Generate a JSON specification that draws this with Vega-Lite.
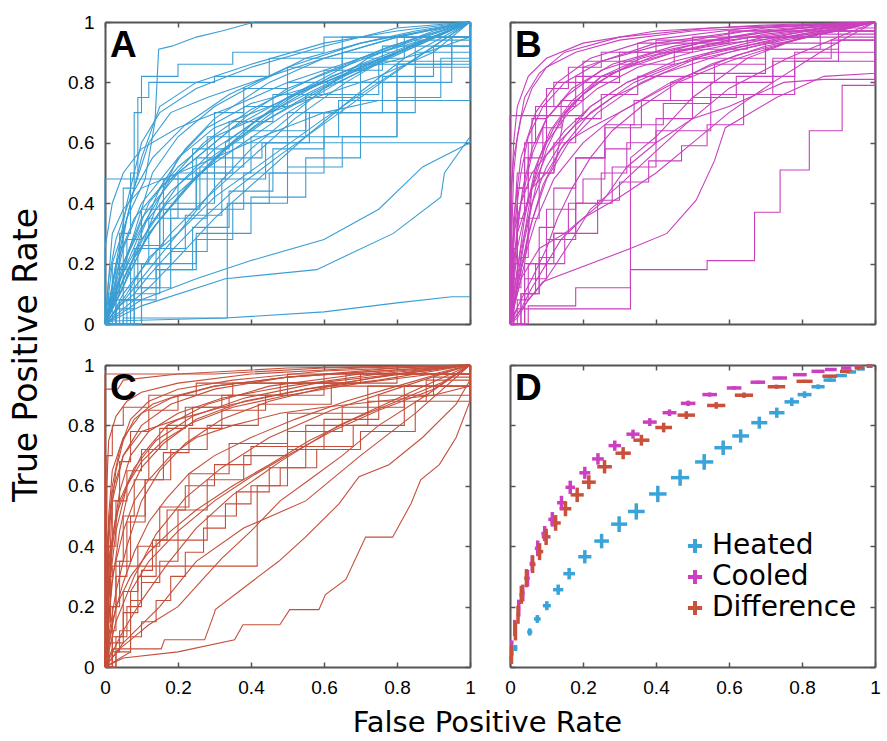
{
"$schema":"https://vega.github.io/schema/vega-lite/v6.json",
"background":"white",
"padding":{"left":10,"top":13,"right":5,"bottom":0},
"config":{"view":{"stroke":null},
"axis":{"domainColor":"#555","domainWidth":2,"tickColor":"#555","tickWidth":1.5,"tickSize":-5,"tickCount":5,"grid":false,"labelFont":"Liberation Sans","labelFontSize":19,"labelColor":"#000","labelPadding":16,"labelFlush":false,"labelOverlap":false,"title":null}},
"datasets":{
"A":[
{"c":1,"x":0,"y":0},{"c":1,"x":0.02,"y":0.2},{"c":1,"x":0.06,"y":0.35},{"c":1,"x":0.11,"y":0.48},{"c":1,"x":0.137,"y":0.67},{"c":1,"x":0.147,"y":0.91},{"c":1,"x":0.183,"y":0.92},{"c":1,"x":0.25,"y":0.95},{"c":1,"x":0.32,"y":0.97},{"c":1,"x":0.41,"y":1},{"c":1,"x":1,"y":1},
{"c":2,"x":0,"y":0},{"c":2,"x":0,"y":0.48},{"c":2,"x":0.33,"y":0.48},{"c":2,"x":0.33,"y":0.6},{"c":2,"x":0.5,"y":0.75},{"c":2,"x":0.7,"y":0.88},{"c":2,"x":0.9,"y":0.97},{"c":2,"x":1,"y":1},
{"c":3,"x":0,"y":0},{"c":3,"x":0.02,"y":0.2},{"c":3,"x":0.05,"y":0.45},{"c":3,"x":0.08,"y":0.7},{"c":3,"x":0.1,"y":0.82},{"c":3,"x":0.2,"y":0.86},{"c":3,"x":0.35,"y":0.9},{"c":3,"x":0.6,"y":0.95},{"c":3,"x":1,"y":1},
{"c":4,"x":0,"y":0},{"c":4,"x":0.03,"y":0.15},{"c":4,"x":0.06,"y":0.35},{"c":4,"x":0.1,"y":0.55},{"c":4,"x":0.15,"y":0.72},{"c":4,"x":0.25,"y":0.8},{"c":4,"x":0.4,"y":0.86},{"c":4,"x":0.6,"y":0.93},{"c":4,"x":0.8,"y":0.97},{"c":4,"x":1,"y":1},
{"c":5,"x":0,"y":0},{"c":5,"x":0.05,"y":0.12},{"c":5,"x":0.1,"y":0.3},{"c":5,"x":0.15,"y":0.45},{"c":5,"x":0.22,"y":0.58},{"c":5,"x":0.3,"y":0.68},{"c":5,"x":0.45,"y":0.8},{"c":5,"x":0.6,"y":0.88},{"c":5,"x":0.8,"y":0.95},{"c":5,"x":1,"y":1},
{"c":6,"x":0,"y":0},{"c":6,"x":0.04,"y":0.08},{"c":6,"x":0.1,"y":0.2},{"c":6,"x":0.18,"y":0.35},{"c":6,"x":0.28,"y":0.5},{"c":6,"x":0.4,"y":0.62},{"c":6,"x":0.55,"y":0.75},{"c":6,"x":0.7,"y":0.86},{"c":6,"x":0.85,"y":0.94},{"c":6,"x":1,"y":1},
{"c":7,"x":0,"y":0},{"c":7,"x":0.06,"y":0.1},{"c":7,"x":0.12,"y":0.22},{"c":7,"x":0.2,"y":0.3},{"c":7,"x":0.3,"y":0.42},{"c":7,"x":0.45,"y":0.55},{"c":7,"x":0.6,"y":0.68},{"c":7,"x":0.75,"y":0.8},{"c":7,"x":0.9,"y":0.92},{"c":7,"x":1,"y":1},
{"c":8,"x":0,"y":0},{"c":8,"x":0.02,"y":0.1},{"c":8,"x":0.05,"y":0.25},{"c":8,"x":0.1,"y":0.4},{"c":8,"x":0.2,"y":0.55},{"c":8,"x":0.3,"y":0.65},{"c":8,"x":0.45,"y":0.72},{"c":8,"x":0.6,"y":0.8},{"c":8,"x":0.8,"y":0.9},{"c":8,"x":1,"y":1},
{"c":9,"x":0,"y":0},{"c":9,"x":0.03,"y":0.05},{"c":9,"x":0.08,"y":0.12},{"c":9,"x":0.15,"y":0.2},{"c":9,"x":0.25,"y":0.3},{"c":9,"x":0.4,"y":0.42},{"c":9,"x":0.55,"y":0.55},{"c":9,"x":0.7,"y":0.7},{"c":9,"x":0.85,"y":0.85},{"c":9,"x":1,"y":1},
{"c":10,"x":0,"y":0},{"c":10,"x":0.01,"y":0.05},{"c":10,"x":0.03,"y":0.2},{"c":10,"x":0.06,"y":0.4},{"c":10,"x":0.1,"y":0.6},{"c":10,"x":0.15,"y":0.7},{"c":10,"x":0.25,"y":0.78},{"c":10,"x":0.4,"y":0.85},{"c":10,"x":0.6,"y":0.92},{"c":10,"x":0.8,"y":0.98},{"c":10,"x":1,"y":1},
{"c":11,"x":0,"y":0},{"c":11,"x":0.05,"y":0.2},{"c":11,"x":0.1,"y":0.35},{"c":11,"x":0.2,"y":0.5},{"c":11,"x":0.3,"y":0.6},{"c":11,"x":0.4,"y":0.7},{"c":11,"x":0.5,"y":0.78},{"c":11,"x":0.65,"y":0.85},{"c":11,"x":0.8,"y":0.92},{"c":11,"x":1,"y":1},
{"c":12,"x":0,"y":0},{"c":12,"x":0.08,"y":0.1},{"c":12,"x":0.15,"y":0.18},{"c":12,"x":0.25,"y":0.28},{"c":12,"x":0.35,"y":0.4},{"c":12,"x":0.5,"y":0.52},{"c":12,"x":0.65,"y":0.62},{"c":12,"x":0.8,"y":0.75},{"c":12,"x":0.92,"y":0.88},{"c":12,"x":1,"y":1},
{"c":13,"x":0,"y":0},{"c":13,"x":0.02,"y":0.05},{"c":13,"x":0.06,"y":0.15},{"c":13,"x":0.12,"y":0.3},{"c":13,"x":0.2,"y":0.42},{"c":13,"x":0.3,"y":0.55},{"c":13,"x":0.42,"y":0.68},{"c":13,"x":0.55,"y":0.78},{"c":13,"x":0.7,"y":0.86},{"c":13,"x":0.85,"y":0.93},{"c":13,"x":1,"y":1},
{"c":14,"x":0,"y":0},{"c":14,"x":0.02,"y":0.01},{"c":14,"x":0.33,"y":0.02},{"c":14,"x":0.6,"y":0.04},{"c":14,"x":0.8,"y":0.07},{"c":14,"x":0.95,"y":0.09},{"c":14,"x":1,"y":0.09},
{"c":15,"x":0,"y":0},{"c":15,"x":0.05,"y":0.02},{"c":15,"x":0.335,"y":0.03},{"c":15,"x":0.335,"y":0.4},{"c":15,"x":0.45,"y":0.5},{"c":15,"x":0.6,"y":0.62},{"c":15,"x":0.8,"y":0.8},{"c":15,"x":0.95,"y":0.95},{"c":15,"x":1,"y":1},
{"c":16,"x":0,"y":0},{"c":16,"x":0.1,"y":0.06},{"c":16,"x":0.33,"y":0.15},{"c":16,"x":0.58,"y":0.18},{"c":16,"x":0.79,"y":0.3},{"c":16,"x":0.92,"y":0.42},{"c":16,"x":0.93,"y":0.5},{"c":16,"x":1,"y":0.62},
{"c":17,"x":0,"y":0},{"c":17,"x":0.1,"y":0.08},{"c":17,"x":0.25,"y":0.15},{"c":17,"x":0.4,"y":0.21},{"c":17,"x":0.6,"y":0.28},{"c":17,"x":0.75,"y":0.38},{"c":17,"x":0.87,"y":0.52},{"c":17,"x":1,"y":0.6},
{"c":18,"x":0,"y":0},{"c":18,"x":0.05,"y":0.2},{"c":18,"x":0.15,"y":0.4},{"c":18,"x":0.3,"y":0.55},{"c":18,"x":0.43,"y":0.6},{"c":18,"x":1,"y":0.61},
{"c":19,"x":0,"y":0},{"c":19,"x":0.03,"y":0.1},{"c":19,"x":0.08,"y":0.3},{"c":19,"x":0.13,"y":0.5},{"c":19,"x":0.2,"y":0.62},{"c":19,"x":0.3,"y":0.72},{"c":19,"x":0.42,"y":0.8},{"c":19,"x":0.55,"y":0.88},{"c":19,"x":0.7,"y":0.93},{"c":19,"x":0.85,"y":0.97},{"c":19,"x":1,"y":1},
{"c":20,"x":0,"y":0},{"c":20,"x":0.04,"y":0.15},{"c":20,"x":0.1,"y":0.28},{"c":20,"x":0.17,"y":0.4},{"c":20,"x":0.26,"y":0.5},{"c":20,"x":0.38,"y":0.6},{"c":20,"x":0.5,"y":0.7},{"c":20,"x":0.64,"y":0.8},{"c":20,"x":0.8,"y":0.9},{"c":20,"x":1,"y":1},
{"c":21,"x":0,"y":0},{"c":21,"x":0.07,"y":0.15},{"c":21,"x":0.14,"y":0.25},{"c":21,"x":0.22,"y":0.36},{"c":21,"x":0.32,"y":0.48},{"c":21,"x":0.44,"y":0.6},{"c":21,"x":0.56,"y":0.7},{"c":21,"x":0.7,"y":0.8},{"c":21,"x":0.85,"y":0.9},{"c":21,"x":1,"y":1},
{"c":22,"x":0,"y":0},{"c":22,"x":0.02,"y":0.12},{"c":22,"x":0.05,"y":0.3},{"c":22,"x":0.08,"y":0.45},{"c":22,"x":0.12,"y":0.6},{"c":22,"x":0.18,"y":0.7},{"c":22,"x":0.28,"y":0.75},{"c":22,"x":0.4,"y":0.8},{"c":22,"x":0.6,"y":0.88},{"c":22,"x":0.8,"y":0.95},{"c":22,"x":1,"y":1},
{"c":23,"x":0,"y":0},{"c":23,"x":0.1,"y":0.15},{"c":23,"x":0.2,"y":0.3},{"c":23,"x":0.3,"y":0.45},{"c":23,"x":0.4,"y":0.58},{"c":23,"x":0.5,"y":0.68},{"c":23,"x":0.6,"y":0.78},{"c":23,"x":0.72,"y":0.88},{"c":23,"x":0.86,"y":0.95},{"c":23,"x":1,"y":1},
{"c":24,"x":0,"y":0},{"c":24,"x":0.03,"y":0.08},{"c":24,"x":0.07,"y":0.2},{"c":24,"x":0.12,"y":0.35},{"c":24,"x":0.2,"y":0.5},{"c":24,"x":0.28,"y":0.62},{"c":24,"x":0.38,"y":0.72},{"c":24,"x":0.5,"y":0.8},{"c":24,"x":0.65,"y":0.88},{"c":24,"x":0.82,"y":0.95},{"c":24,"x":1,"y":1},
{"c":25,"x":0,"y":0},{"c":25,"x":0,"y":0.25},{"c":25,"x":0.02,"y":0.4},{"c":25,"x":0.05,"y":0.5},{"c":25,"x":0.1,"y":0.58},{"c":25,"x":0.2,"y":0.65},{"c":25,"x":0.35,"y":0.72},{"c":25,"x":0.5,"y":0.8},{"c":25,"x":0.7,"y":0.88},{"c":25,"x":0.9,"y":0.95},{"c":25,"x":1,"y":1},
{"c":26,"x":0,"y":0},{"c":26,"x":0.05,"y":0.05},{"c":26,"x":0.12,"y":0.12},{"c":26,"x":0.2,"y":0.22},{"c":26,"x":0.3,"y":0.35},{"c":26,"x":0.42,"y":0.48},{"c":26,"x":0.55,"y":0.62},{"c":26,"x":0.68,"y":0.75},{"c":26,"x":0.82,"y":0.88},{"c":26,"x":1,"y":1},
{"c":27,"x":0,"y":0},{"c":27,"x":0.01,"y":0.1},{"c":27,"x":0.04,"y":0.3},{"c":27,"x":0.07,"y":0.5},{"c":27,"x":0.09,"y":0.75},{"c":27,"x":0.12,"y":0.8},{"c":27,"x":0.3,"y":0.82},{"c":27,"x":0.45,"y":0.88},{"c":27,"x":0.65,"y":0.95},{"c":27,"x":1,"y":1},
{"c":28,"x":0,"y":0},{"c":28,"x":0.06,"y":0.22},{"c":28,"x":0.12,"y":0.4},{"c":28,"x":0.2,"y":0.52},{"c":28,"x":0.3,"y":0.62},{"c":28,"x":0.45,"y":0.7},{"c":28,"x":0.6,"y":0.76},{"c":28,"x":0.75,"y":0.82},{"c":28,"x":0.9,"y":0.9},{"c":28,"x":1,"y":1},
{"c":29,"x":0,"y":0},{"c":29,"x":0.02,"y":0.03},{"c":29,"x":0.05,"y":0.1},{"c":29,"x":0.1,"y":0.18},{"c":29,"x":0.18,"y":0.3},{"c":29,"x":0.28,"y":0.42},{"c":29,"x":0.4,"y":0.55},{"c":29,"x":0.52,"y":0.68},{"c":29,"x":0.66,"y":0.8},{"c":29,"x":0.8,"y":0.9},{"c":29,"x":1,"y":1},
{"c":30,"x":0,"y":0},{"c":30,"x":0.08,"y":0.25},{"c":30,"x":0.15,"y":0.38},{"c":30,"x":0.25,"y":0.5},{"c":30,"x":0.35,"y":0.6},{"c":30,"x":0.5,"y":0.7},{"c":30,"x":0.65,"y":0.8},{"c":30,"x":0.8,"y":0.86},{"c":30,"x":0.95,"y":0.95},{"c":30,"x":1,"y":1},
{"c":31,"x":0,"y":0},{"c":31,"x":0.03,"y":0.2},{"c":31,"x":0.08,"y":0.35},{"c":31,"x":0.15,"y":0.45},{"c":31,"x":0.25,"y":0.55},{"c":31,"x":0.35,"y":0.65},{"c":31,"x":0.5,"y":0.75},{"c":31,"x":0.7,"y":0.85},{"c":31,"x":0.9,"y":0.95},{"c":31,"x":1,"y":1},
{"c":32,"x":0,"y":0},{"c":32,"x":0.015,"y":0.05},{"c":32,"x":0.04,"y":0.12},{"c":32,"x":0.08,"y":0.22},{"c":32,"x":0.14,"y":0.33},{"c":32,"x":0.22,"y":0.45},{"c":32,"x":0.32,"y":0.57},{"c":32,"x":0.45,"y":0.68},{"c":32,"x":0.6,"y":0.78},{"c":32,"x":0.78,"y":0.88},{"c":32,"x":1,"y":1},
{"c":33,"x":0,"y":0},{"c":33,"x":0.1,"y":0.2},{"c":33,"x":0.18,"y":0.38},{"c":33,"x":0.25,"y":0.55},{"c":33,"x":0.3,"y":0.7},{"c":33,"x":0.38,"y":0.78},{"c":33,"x":0.5,"y":0.85},{"c":33,"x":0.65,"y":0.9},{"c":33,"x":0.8,"y":0.95},{"c":33,"x":1,"y":1},
{"c":34,"x":0,"y":0},{"c":34,"x":0.04,"y":0.1},{"c":34,"x":0.1,"y":0.25},{"c":34,"x":0.15,"y":0.42},{"c":34,"x":0.2,"y":0.55},{"c":34,"x":0.28,"y":0.65},{"c":34,"x":0.4,"y":0.73},{"c":34,"x":0.55,"y":0.78},{"c":34,"x":0.72,"y":0.85},{"c":34,"x":0.88,"y":0.9},{"c":34,"x":1,"y":0.95},{"c":34,"x":1,"y":1},
{"c":35,"x":0,"y":0},{"c":35,"x":0.02,"y":0.3},{"c":35,"x":0.05,"y":0.38},{"c":35,"x":0.1,"y":0.45},{"c":35,"x":0.2,"y":0.5},{"c":35,"x":0.3,"y":0.55},{"c":35,"x":0.45,"y":0.63},{"c":35,"x":0.6,"y":0.7},{"c":35,"x":0.75,"y":0.74},{"c":35,"x":1,"y":0.74},{"c":35,"x":1,"y":1},
{"c":36,"x":0,"y":0},{"c":36,"x":0.01,"y":0.08},{"c":36,"x":0.03,"y":0.18},{"c":36,"x":0.06,"y":0.28},{"c":36,"x":0.1,"y":0.38},{"c":36,"x":0.16,"y":0.48},{"c":36,"x":0.24,"y":0.58},{"c":36,"x":0.34,"y":0.67},{"c":36,"x":0.46,"y":0.76},{"c":36,"x":0.6,"y":0.84},{"c":36,"x":0.76,"y":0.92},{"c":36,"x":1,"y":1},
{"c":37,"x":0,"y":0},{"c":37,"x":0.02,"y":0.02},{"c":37,"x":0.04,"y":0.06},{"c":37,"x":0.08,"y":0.1},{"c":37,"x":0.12,"y":0.16},{"c":37,"x":0.18,"y":0.24},{"c":37,"x":0.26,"y":0.34},{"c":37,"x":0.36,"y":0.45},{"c":37,"x":0.48,"y":0.56},{"c":37,"x":0.62,"y":0.68},{"c":37,"x":0.78,"y":0.82},{"c":37,"x":1,"y":1},
{"c":38,"x":0,"y":0},{"c":38,"x":0.05,"y":0.15},{"c":38,"x":0.12,"y":0.32},{"c":38,"x":0.2,"y":0.46},{"c":38,"x":0.3,"y":0.58},{"c":38,"x":0.45,"y":0.7},{"c":38,"x":0.65,"y":0.82},{"c":38,"x":0.85,"y":0.92},{"c":38,"x":1,"y":1},
{"c":39,"x":0,"y":0},{"c":39,"x":0.03,"y":0.12},{"c":39,"x":0.09,"y":0.26},{"c":39,"x":0.16,"y":0.38},{"c":39,"x":0.26,"y":0.52},{"c":39,"x":0.38,"y":0.64},{"c":39,"x":0.55,"y":0.76},{"c":39,"x":0.75,"y":0.87},{"c":39,"x":1,"y":1},
{"c":40,"x":0,"y":0},{"c":40,"x":0.07,"y":0.2},{"c":40,"x":0.14,"y":0.33},{"c":40,"x":0.24,"y":0.47},{"c":40,"x":0.35,"y":0.6},{"c":40,"x":0.48,"y":0.72},{"c":40,"x":0.62,"y":0.82},{"c":40,"x":0.8,"y":0.9},{"c":40,"x":1,"y":1},
{"c":41,"x":0,"y":0},{"c":41,"x":0.02,"y":0.08},{"c":41,"x":0.06,"y":0.2},{"c":41,"x":0.11,"y":0.34},{"c":41,"x":0.18,"y":0.48},{"c":41,"x":0.27,"y":0.6},{"c":41,"x":0.4,"y":0.71},{"c":41,"x":0.58,"y":0.82},{"c":41,"x":0.78,"y":0.92},{"c":41,"x":1,"y":1},
{"c":42,"x":0,"y":0},{"c":42,"x":0.1,"y":0.12},{"c":42,"x":0.18,"y":0.24},{"c":42,"x":0.28,"y":0.38},{"c":42,"x":0.38,"y":0.5},{"c":42,"x":0.5,"y":0.62},{"c":42,"x":0.64,"y":0.74},{"c":42,"x":0.8,"y":0.86},{"c":42,"x":1,"y":1},
{"c":43,"x":0,"y":0},{"c":43,"x":0.04,"y":0.18},{"c":43,"x":0.1,"y":0.32},{"c":43,"x":0.18,"y":0.44},{"c":43,"x":0.3,"y":0.56},{"c":43,"x":0.42,"y":0.66},{"c":43,"x":0.56,"y":0.76},{"c":43,"x":0.72,"y":0.86},{"c":43,"x":0.88,"y":0.94},{"c":43,"x":1,"y":1},
{"c":44,"x":0,"y":0},{"c":44,"x":0.01,"y":0.15},{"c":44,"x":0.03,"y":0.28},{"c":44,"x":0.07,"y":0.42},{"c":44,"x":0.13,"y":0.55},{"c":44,"x":0.22,"y":0.66},{"c":44,"x":0.34,"y":0.76},{"c":44,"x":0.5,"y":0.85},{"c":44,"x":0.7,"y":0.93},{"c":44,"x":1,"y":1},
{"c":45,"x":0,"y":0},{"c":45,"x":0.06,"y":0.08},{"c":45,"x":0.14,"y":0.18},{"c":45,"x":0.24,"y":0.32},{"c":45,"x":0.34,"y":0.44},{"c":45,"x":0.46,"y":0.58},{"c":45,"x":0.6,"y":0.7},{"c":45,"x":0.76,"y":0.82},{"c":45,"x":0.9,"y":0.92},{"c":45,"x":1,"y":1}
],
"B":[
{"c":1,"x":0,"y":0},{"c":1,"x":0,"y":0.69},{"c":1,"x":0.2,"y":0.69},{"c":1,"x":0.2,"y":0.85},{"c":1,"x":0.4,"y":0.93},{"c":1,"x":0.7,"y":0.98},{"c":1,"x":1,"y":1},
{"c":2,"x":0,"y":0},{"c":2,"x":0.01,"y":0.3},{"c":2,"x":0.02,"y":0.5},{"c":2,"x":0.12,"y":0.5},{"c":2,"x":0.15,"y":0.7},{"c":2,"x":0.25,"y":0.82},{"c":2,"x":0.45,"y":0.9},{"c":2,"x":0.7,"y":0.96},{"c":2,"x":1,"y":1},
{"c":3,"x":0,"y":0},{"c":3,"x":0.01,"y":0.2},{"c":3,"x":0.02,"y":0.45},{"c":3,"x":0.04,"y":0.6},{"c":3,"x":0.07,"y":0.72},{"c":3,"x":0.12,"y":0.8},{"c":3,"x":0.2,"y":0.87},{"c":3,"x":0.35,"y":0.93},{"c":3,"x":0.6,"y":0.97},{"c":3,"x":1,"y":1},
{"c":4,"x":0,"y":0},{"c":4,"x":0.005,"y":0.15},{"c":4,"x":0.015,"y":0.35},{"c":4,"x":0.03,"y":0.5},{"c":4,"x":0.05,"y":0.62},{"c":4,"x":0.09,"y":0.72},{"c":4,"x":0.15,"y":0.8},{"c":4,"x":0.25,"y":0.87},{"c":4,"x":0.4,"y":0.92},{"c":4,"x":0.65,"y":0.97},{"c":4,"x":1,"y":1},
{"c":5,"x":0,"y":0},{"c":5,"x":0.01,"y":0.1},{"c":5,"x":0.03,"y":0.25},{"c":5,"x":0.06,"y":0.4},{"c":5,"x":0.1,"y":0.52},{"c":5,"x":0.15,"y":0.62},{"c":5,"x":0.22,"y":0.72},{"c":5,"x":0.32,"y":0.8},{"c":5,"x":0.45,"y":0.87},{"c":5,"x":0.65,"y":0.93},{"c":5,"x":0.85,"y":0.98},{"c":5,"x":1,"y":1},
{"c":6,"x":0,"y":0},{"c":6,"x":0.02,"y":0.08},{"c":6,"x":0.05,"y":0.2},{"c":6,"x":0.08,"y":0.32},{"c":6,"x":0.12,"y":0.45},{"c":6,"x":0.18,"y":0.55},{"c":6,"x":0.26,"y":0.65},{"c":6,"x":0.36,"y":0.74},{"c":6,"x":0.5,"y":0.83},{"c":6,"x":0.7,"y":0.91},{"c":6,"x":0.9,"y":0.97},{"c":6,"x":1,"y":1},
{"c":7,"x":0,"y":0},{"c":7,"x":0.005,"y":0.3},{"c":7,"x":0.01,"y":0.5},{"c":7,"x":0.02,"y":0.62},{"c":7,"x":0.04,"y":0.75},{"c":7,"x":0.08,"y":0.83},{"c":7,"x":0.15,"y":0.9},{"c":7,"x":0.3,"y":0.95},{"c":7,"x":0.55,"y":0.98},{"c":7,"x":1,"y":1},
{"c":8,"x":0,"y":0},{"c":8,"x":0.02,"y":0.05},{"c":8,"x":0.33,"y":0.05},{"c":8,"x":0.33,"y":0.55},{"c":8,"x":0.4,"y":0.62},{"c":8,"x":0.5,"y":0.75},{"c":8,"x":0.65,"y":0.88},{"c":8,"x":0.8,"y":0.95},{"c":8,"x":1,"y":1},
{"c":9,"x":0,"y":0},{"c":9,"x":0.05,"y":0.06},{"c":9,"x":0.18,"y":0.12},{"c":9,"x":0.33,"y":0.18},{"c":9,"x":0.54,"y":0.21},{"c":9,"x":0.67,"y":0.37},{"c":9,"x":0.74,"y":0.51},{"c":9,"x":0.82,"y":0.64},{"c":9,"x":0.91,"y":0.79},{"c":9,"x":1,"y":0.94},{"c":9,"x":1,"y":1},
{"c":10,"x":0,"y":0},{"c":10,"x":0.09,"y":0.14},{"c":10,"x":0.33,"y":0.25},{"c":10,"x":0.43,"y":0.3},{"c":10,"x":0.51,"y":0.41},{"c":10,"x":0.56,"y":0.54},{"c":10,"x":0.59,"y":0.65},{"c":10,"x":0.73,"y":0.75},{"c":10,"x":0.86,"y":0.82},{"c":10,"x":1,"y":0.83},{"c":10,"x":1,"y":1},
{"c":11,"x":0,"y":0},{"c":11,"x":0.03,"y":0.15},{"c":11,"x":0.08,"y":0.25},{"c":11,"x":0.15,"y":0.3},{"c":11,"x":0.25,"y":0.4},{"c":11,"x":0.32,"y":0.52},{"c":11,"x":0.4,"y":0.6},{"c":11,"x":0.5,"y":0.68},{"c":11,"x":0.6,"y":0.72},{"c":11,"x":0.75,"y":0.8},{"c":11,"x":0.86,"y":0.81},{"c":11,"x":1,"y":0.81},{"c":11,"x":1,"y":1},
{"c":12,"x":0,"y":0},{"c":12,"x":0.01,"y":0.25},{"c":12,"x":0.02,"y":0.4},{"c":12,"x":0.05,"y":0.55},{"c":12,"x":0.09,"y":0.65},{"c":12,"x":0.14,"y":0.74},{"c":12,"x":0.2,"y":0.8},{"c":12,"x":0.3,"y":0.86},{"c":12,"x":0.45,"y":0.91},{"c":12,"x":0.65,"y":0.95},{"c":12,"x":0.85,"y":0.98},{"c":12,"x":1,"y":1},
{"c":13,"x":0,"y":0},{"c":13,"x":0.015,"y":0.1},{"c":13,"x":0.04,"y":0.28},{"c":13,"x":0.07,"y":0.45},{"c":13,"x":0.1,"y":0.58},{"c":13,"x":0.14,"y":0.68},{"c":13,"x":0.2,"y":0.76},{"c":13,"x":0.28,"y":0.83},{"c":13,"x":0.4,"y":0.89},{"c":13,"x":0.6,"y":0.94},{"c":13,"x":0.8,"y":0.97},{"c":13,"x":1,"y":1},
{"c":14,"x":0,"y":0},{"c":14,"x":0.01,"y":0.05},{"c":14,"x":0.02,"y":0.15},{"c":14,"x":0.04,"y":0.3},{"c":14,"x":0.06,"y":0.45},{"c":14,"x":0.1,"y":0.6},{"c":14,"x":0.16,"y":0.7},{"c":14,"x":0.24,"y":0.78},{"c":14,"x":0.35,"y":0.85},{"c":14,"x":0.5,"y":0.9},{"c":14,"x":0.7,"y":0.95},{"c":14,"x":1,"y":1},
{"c":15,"x":0,"y":0},{"c":15,"x":0.03,"y":0.1},{"c":15,"x":0.07,"y":0.2},{"c":15,"x":0.12,"y":0.3},{"c":15,"x":0.18,"y":0.4},{"c":15,"x":0.25,"y":0.5},{"c":15,"x":0.32,"y":0.6},{"c":15,"x":0.4,"y":0.68},{"c":15,"x":0.5,"y":0.75},{"c":15,"x":0.62,"y":0.82},{"c":15,"x":0.78,"y":0.9},{"c":15,"x":1,"y":1},
{"c":16,"x":0,"y":0},{"c":16,"x":0.02,"y":0.02},{"c":16,"x":0.05,"y":0.08},{"c":16,"x":0.1,"y":0.15},{"c":16,"x":0.17,"y":0.28},{"c":16,"x":0.22,"y":0.38},{"c":16,"x":0.3,"y":0.46},{"c":16,"x":0.38,"y":0.55},{"c":16,"x":0.48,"y":0.66},{"c":16,"x":0.6,"y":0.78},{"c":16,"x":0.76,"y":0.88},{"c":16,"x":0.9,"y":0.95},{"c":16,"x":1,"y":1},
{"c":17,"x":0,"y":0},{"c":17,"x":0,"y":0.4},{"c":17,"x":0.01,"y":0.55},{"c":17,"x":0.03,"y":0.68},{"c":17,"x":0.06,"y":0.78},{"c":17,"x":0.1,"y":0.85},{"c":17,"x":0.18,"y":0.9},{"c":17,"x":0.3,"y":0.94},{"c":17,"x":0.5,"y":0.97},{"c":17,"x":1,"y":1},
{"c":18,"x":0,"y":0},{"c":18,"x":0.01,"y":0.12},{"c":18,"x":0.03,"y":0.22},{"c":18,"x":0.05,"y":0.35},{"c":18,"x":0.08,"y":0.5},{"c":18,"x":0.12,"y":0.6},{"c":18,"x":0.18,"y":0.68},{"c":18,"x":0.25,"y":0.76},{"c":18,"x":0.35,"y":0.82},{"c":18,"x":0.5,"y":0.88},{"c":18,"x":0.7,"y":0.93},{"c":18,"x":0.9,"y":0.97},{"c":18,"x":1,"y":1},
{"c":19,"x":0,"y":0},{"c":19,"x":0.02,"y":0.18},{"c":19,"x":0.04,"y":0.35},{"c":19,"x":0.07,"y":0.52},{"c":19,"x":0.11,"y":0.64},{"c":19,"x":0.17,"y":0.74},{"c":19,"x":0.25,"y":0.82},{"c":19,"x":0.36,"y":0.88},{"c":19,"x":0.52,"y":0.93},{"c":19,"x":0.72,"y":0.97},{"c":19,"x":1,"y":1},
{"c":20,"x":0,"y":0},{"c":20,"x":0.005,"y":0.08},{"c":20,"x":0.01,"y":0.2},{"c":20,"x":0.02,"y":0.32},{"c":20,"x":0.035,"y":0.45},{"c":20,"x":0.06,"y":0.58},{"c":20,"x":0.1,"y":0.68},{"c":20,"x":0.16,"y":0.76},{"c":20,"x":0.25,"y":0.84},{"c":20,"x":0.4,"y":0.9},{"c":20,"x":0.6,"y":0.95},{"c":20,"x":0.8,"y":0.98},{"c":20,"x":1,"y":1},
{"c":21,"x":0,"y":0},{"c":21,"x":0.04,"y":0.1},{"c":21,"x":0.08,"y":0.22},{"c":21,"x":0.12,"y":0.3},{"c":21,"x":0.16,"y":0.4},{"c":21,"x":0.2,"y":0.48},{"c":21,"x":0.26,"y":0.58},{"c":21,"x":0.33,"y":0.66},{"c":21,"x":0.42,"y":0.73},{"c":21,"x":0.55,"y":0.8},{"c":21,"x":0.72,"y":0.88},{"c":21,"x":0.88,"y":0.94},{"c":21,"x":1,"y":1},
{"c":22,"x":0,"y":0},{"c":22,"x":0.01,"y":0.03},{"c":22,"x":0.03,"y":0.08},{"c":22,"x":0.06,"y":0.15},{"c":22,"x":0.1,"y":0.25},{"c":22,"x":0.13,"y":0.35},{"c":22,"x":0.17,"y":0.45},{"c":22,"x":0.22,"y":0.55},{"c":22,"x":0.28,"y":0.64},{"c":22,"x":0.36,"y":0.72},{"c":22,"x":0.46,"y":0.8},{"c":22,"x":0.6,"y":0.87},{"c":22,"x":0.78,"y":0.94},{"c":22,"x":1,"y":1},
{"c":23,"x":0,"y":0},{"c":23,"x":0.02,"y":0.3},{"c":23,"x":0.06,"y":0.45},{"c":23,"x":0.1,"y":0.5},{"c":23,"x":0.15,"y":0.6},{"c":23,"x":0.22,"y":0.65},{"c":23,"x":0.3,"y":0.7},{"c":23,"x":0.42,"y":0.78},{"c":23,"x":0.55,"y":0.86},{"c":23,"x":0.7,"y":0.92},{"c":23,"x":0.85,"y":0.96},{"c":23,"x":1,"y":1},
{"c":24,"x":0,"y":0},{"c":24,"x":0.01,"y":0.15},{"c":24,"x":0.02,"y":0.35},{"c":24,"x":0.04,"y":0.55},{"c":24,"x":0.06,"y":0.68},{"c":24,"x":0.1,"y":0.78},{"c":24,"x":0.16,"y":0.85},{"c":24,"x":0.25,"y":0.9},{"c":24,"x":0.4,"y":0.94},{"c":24,"x":0.6,"y":0.97},{"c":24,"x":1,"y":1},
{"c":25,"x":0,"y":0},{"c":25,"x":0.03,"y":0.05},{"c":25,"x":0.06,"y":0.12},{"c":25,"x":0.1,"y":0.2},{"c":25,"x":0.14,"y":0.28},{"c":25,"x":0.2,"y":0.35},{"c":25,"x":0.3,"y":0.42},{"c":25,"x":0.4,"y":0.5},{"c":25,"x":0.5,"y":0.6},{"c":25,"x":0.6,"y":0.7},{"c":25,"x":0.72,"y":0.8},{"c":25,"x":0.85,"y":0.9},{"c":25,"x":1,"y":1},
{"c":26,"x":0,"y":0},{"c":26,"x":0.005,"y":0.45},{"c":26,"x":0.01,"y":0.6},{"c":26,"x":0.02,"y":0.72},{"c":26,"x":0.05,"y":0.82},{"c":26,"x":0.1,"y":0.88},{"c":26,"x":0.2,"y":0.93},{"c":26,"x":0.4,"y":0.97},{"c":26,"x":0.7,"y":0.99},{"c":26,"x":1,"y":1},
{"c":27,"x":0,"y":0},{"c":27,"x":0.04,"y":0.2},{"c":27,"x":0.1,"y":0.38},{"c":27,"x":0.18,"y":0.55},{"c":27,"x":0.26,"y":0.66},{"c":27,"x":0.34,"y":0.74},{"c":27,"x":0.44,"y":0.8},{"c":27,"x":0.56,"y":0.86},{"c":27,"x":0.7,"y":0.91},{"c":27,"x":0.85,"y":0.96},{"c":27,"x":1,"y":1},
{"c":28,"x":0,"y":0},{"c":28,"x":0.02,"y":0.1},{"c":28,"x":0.04,"y":0.2},{"c":28,"x":0.05,"y":0.3},{"c":28,"x":0.06,"y":0.45},{"c":28,"x":0.08,"y":0.55},{"c":28,"x":0.12,"y":0.65},{"c":28,"x":0.17,"y":0.73},{"c":28,"x":0.24,"y":0.8},{"c":28,"x":0.33,"y":0.86},{"c":28,"x":0.45,"y":0.9},{"c":28,"x":0.6,"y":0.93},{"c":28,"x":0.9,"y":0.97},{"c":28,"x":1,"y":1},
{"c":29,"x":0,"y":0},{"c":29,"x":0,"y":0.2},{"c":29,"x":0.01,"y":0.3},{"c":29,"x":0.03,"y":0.4},{"c":29,"x":0.06,"y":0.5},{"c":29,"x":0.1,"y":0.56},{"c":29,"x":0.15,"y":0.64},{"c":29,"x":0.22,"y":0.72},{"c":29,"x":0.32,"y":0.8},{"c":29,"x":0.45,"y":0.86},{"c":29,"x":0.6,"y":0.9},{"c":29,"x":0.75,"y":0.94},{"c":29,"x":0.9,"y":0.97},{"c":29,"x":1,"y":1},
{"c":30,"x":0,"y":0},{"c":30,"x":0.03,"y":0.1},{"c":30,"x":0.08,"y":0.2},{"c":30,"x":0.15,"y":0.3},{"c":30,"x":0.24,"y":0.41},{"c":30,"x":0.3,"y":0.47},{"c":30,"x":0.38,"y":0.54},{"c":30,"x":0.47,"y":0.59},{"c":30,"x":0.54,"y":0.66},{"c":30,"x":0.64,"y":0.76},{"c":30,"x":0.78,"y":0.87},{"c":30,"x":0.9,"y":0.94},{"c":30,"x":1,"y":1},
{"c":31,"x":0,"y":0},{"c":31,"x":0.01,"y":0.2},{"c":31,"x":0.03,"y":0.4},{"c":31,"x":0.06,"y":0.56},{"c":31,"x":0.1,"y":0.68},{"c":31,"x":0.17,"y":0.78},{"c":31,"x":0.28,"y":0.86},{"c":31,"x":0.45,"y":0.92},{"c":31,"x":0.7,"y":0.97},{"c":31,"x":1,"y":1},
{"c":32,"x":0,"y":0},{"c":32,"x":0.02,"y":0.12},{"c":32,"x":0.05,"y":0.3},{"c":32,"x":0.09,"y":0.46},{"c":32,"x":0.14,"y":0.58},{"c":32,"x":0.22,"y":0.7},{"c":32,"x":0.34,"y":0.8},{"c":32,"x":0.5,"y":0.88},{"c":32,"x":0.75,"y":0.95},{"c":32,"x":1,"y":1},
{"c":33,"x":0,"y":0},{"c":33,"x":0.005,"y":0.25},{"c":33,"x":0.02,"y":0.45},{"c":33,"x":0.05,"y":0.6},{"c":33,"x":0.1,"y":0.72},{"c":33,"x":0.18,"y":0.82},{"c":33,"x":0.3,"y":0.9},{"c":33,"x":0.5,"y":0.95},{"c":33,"x":1,"y":1},
{"c":34,"x":0,"y":0},{"c":34,"x":0.03,"y":0.18},{"c":34,"x":0.07,"y":0.34},{"c":34,"x":0.12,"y":0.48},{"c":34,"x":0.2,"y":0.6},{"c":34,"x":0.3,"y":0.7},{"c":34,"x":0.44,"y":0.8},{"c":34,"x":0.62,"y":0.89},{"c":34,"x":0.85,"y":0.96},{"c":34,"x":1,"y":1},
{"c":35,"x":0,"y":0},{"c":35,"x":0.01,"y":0.06},{"c":35,"x":0.03,"y":0.18},{"c":35,"x":0.06,"y":0.34},{"c":35,"x":0.1,"y":0.48},{"c":35,"x":0.16,"y":0.6},{"c":35,"x":0.24,"y":0.7},{"c":35,"x":0.36,"y":0.8},{"c":35,"x":0.55,"y":0.9},{"c":35,"x":1,"y":1},
{"c":36,"x":0,"y":0},{"c":36,"x":0.04,"y":0.15},{"c":36,"x":0.1,"y":0.28},{"c":36,"x":0.18,"y":0.4},{"c":36,"x":0.28,"y":0.52},{"c":36,"x":0.4,"y":0.64},{"c":36,"x":0.55,"y":0.76},{"c":36,"x":0.72,"y":0.87},{"c":36,"x":1,"y":1},
{"c":37,"x":0,"y":0},{"c":37,"x":0.01,"y":0.35},{"c":37,"x":0.03,"y":0.55},{"c":37,"x":0.07,"y":0.7},{"c":37,"x":0.13,"y":0.8},{"c":37,"x":0.22,"y":0.88},{"c":37,"x":0.38,"y":0.94},{"c":37,"x":0.65,"y":0.98},{"c":37,"x":1,"y":1},
{"c":38,"x":0,"y":0},{"c":38,"x":0.02,"y":0.25},{"c":38,"x":0.05,"y":0.42},{"c":38,"x":0.1,"y":0.56},{"c":38,"x":0.18,"y":0.66},{"c":38,"x":0.28,"y":0.75},{"c":38,"x":0.42,"y":0.83},{"c":38,"x":0.6,"y":0.9},{"c":38,"x":0.8,"y":0.96},{"c":38,"x":1,"y":1}
],
"C":[
{"c":1,"x":0,"y":0},{"c":1,"x":0,"y":0.97},{"c":1,"x":0.3,"y":0.97},{"c":1,"x":0.6,"y":0.99},{"c":1,"x":1,"y":1},
{"c":2,"x":0,"y":0},{"c":2,"x":0,"y":0.92},{"c":2,"x":0.035,"y":0.92},{"c":2,"x":0.05,"y":0.95},{"c":2,"x":0.2,"y":0.97},{"c":2,"x":0.5,"y":0.99},{"c":2,"x":1,"y":1},
{"c":3,"x":0,"y":0},{"c":3,"x":0.01,"y":0.3},{"c":3,"x":0.02,"y":0.334},{"c":3,"x":0.417,"y":0.334},{"c":3,"x":0.417,"y":0.6},{"c":3,"x":0.5,"y":0.72},{"c":3,"x":0.6,"y":0.82},{"c":3,"x":0.75,"y":0.9},{"c":3,"x":0.9,"y":0.96},{"c":3,"x":1,"y":1},
{"c":4,"x":0,"y":0},{"c":4,"x":0.02,"y":0.06},{"c":4,"x":0.154,"y":0.06},{"c":4,"x":0.163,"y":0.09},{"c":4,"x":0.273,"y":0.09},{"c":4,"x":0.3,"y":0.18},{"c":4,"x":0.302,"y":0.19},{"c":4,"x":0.421,"y":0.3},{"c":4,"x":0.476,"y":0.35},{"c":4,"x":0.549,"y":0.43},{"c":4,"x":0.641,"y":0.54},{"c":4,"x":0.696,"y":0.63},{"c":4,"x":0.778,"y":0.67},{"c":4,"x":0.87,"y":0.76},{"c":4,"x":0.962,"y":0.87},{"c":4,"x":1,"y":0.95},{"c":4,"x":1,"y":1},
{"c":5,"x":0,"y":0},{"c":5,"x":0.05,"y":0.03},{"c":5,"x":0.2,"y":0.05},{"c":5,"x":0.355,"y":0.09},{"c":5,"x":0.378,"y":0.14},{"c":5,"x":0.479,"y":0.14},{"c":5,"x":0.506,"y":0.19},{"c":5,"x":0.586,"y":0.19},{"c":5,"x":0.604,"y":0.24},{"c":5,"x":0.66,"y":0.29},{"c":5,"x":0.714,"y":0.43},{"c":5,"x":0.788,"y":0.43},{"c":5,"x":0.838,"y":0.54},{"c":5,"x":0.865,"y":0.62},{"c":5,"x":0.916,"y":0.67},{"c":5,"x":0.962,"y":0.76},{"c":5,"x":1,"y":0.88},{"c":5,"x":1,"y":1},
{"c":6,"x":0,"y":0},{"c":6,"x":0.005,"y":0.2},{"c":6,"x":0.01,"y":0.4},{"c":6,"x":0.02,"y":0.55},{"c":6,"x":0.04,"y":0.68},{"c":6,"x":0.07,"y":0.78},{"c":6,"x":0.12,"y":0.85},{"c":6,"x":0.2,"y":0.9},{"c":6,"x":0.35,"y":0.94},{"c":6,"x":0.6,"y":0.97},{"c":6,"x":1,"y":1},
{"c":7,"x":0,"y":0},{"c":7,"x":0.005,"y":0.1},{"c":7,"x":0.01,"y":0.25},{"c":7,"x":0.02,"y":0.42},{"c":7,"x":0.04,"y":0.58},{"c":7,"x":0.07,"y":0.7},{"c":7,"x":0.12,"y":0.78},{"c":7,"x":0.2,"y":0.84},{"c":7,"x":0.32,"y":0.89},{"c":7,"x":0.5,"y":0.93},{"c":7,"x":0.75,"y":0.97},{"c":7,"x":1,"y":1},
{"c":8,"x":0,"y":0},{"c":8,"x":0.01,"y":0.1},{"c":8,"x":0.03,"y":0.25},{"c":8,"x":0.06,"y":0.4},{"c":8,"x":0.1,"y":0.55},{"c":8,"x":0.15,"y":0.65},{"c":8,"x":0.22,"y":0.74},{"c":8,"x":0.32,"y":0.82},{"c":8,"x":0.45,"y":0.88},{"c":8,"x":0.65,"y":0.94},{"c":8,"x":0.85,"y":0.98},{"c":8,"x":1,"y":1},
{"c":9,"x":0,"y":0},{"c":9,"x":0.02,"y":0.08},{"c":9,"x":0.05,"y":0.18},{"c":9,"x":0.09,"y":0.3},{"c":9,"x":0.14,"y":0.42},{"c":9,"x":0.2,"y":0.52},{"c":9,"x":0.28,"y":0.62},{"c":9,"x":0.38,"y":0.7},{"c":9,"x":0.5,"y":0.78},{"c":9,"x":0.65,"y":0.86},{"c":9,"x":0.82,"y":0.93},{"c":9,"x":1,"y":1},
{"c":10,"x":0,"y":0},{"c":10,"x":0.01,"y":0.45},{"c":10,"x":0.02,"y":0.6},{"c":10,"x":0.04,"y":0.72},{"c":10,"x":0.07,"y":0.82},{"c":10,"x":0.12,"y":0.88},{"c":10,"x":0.2,"y":0.92},{"c":10,"x":0.35,"y":0.95},{"c":10,"x":0.6,"y":0.98},{"c":10,"x":1,"y":1},
{"c":11,"x":0,"y":0},{"c":11,"x":0.005,"y":0.05},{"c":11,"x":0.01,"y":0.15},{"c":11,"x":0.02,"y":0.28},{"c":11,"x":0.04,"y":0.45},{"c":11,"x":0.06,"y":0.56},{"c":11,"x":0.1,"y":0.66},{"c":11,"x":0.16,"y":0.74},{"c":11,"x":0.25,"y":0.82},{"c":11,"x":0.38,"y":0.88},{"c":11,"x":0.55,"y":0.92},{"c":11,"x":0.75,"y":0.96},{"c":11,"x":1,"y":1},
{"c":12,"x":0,"y":0},{"c":12,"x":0.03,"y":0.1},{"c":12,"x":0.06,"y":0.2},{"c":12,"x":0.1,"y":0.28},{"c":12,"x":0.15,"y":0.35},{"c":12,"x":0.2,"y":0.42},{"c":12,"x":0.28,"y":0.5},{"c":12,"x":0.36,"y":0.58},{"c":12,"x":0.45,"y":0.66},{"c":12,"x":0.55,"y":0.73},{"c":12,"x":0.68,"y":0.8},{"c":12,"x":0.82,"y":0.9},{"c":12,"x":1,"y":1},
{"c":13,"x":0,"y":0},{"c":13,"x":0.04,"y":0.06},{"c":13,"x":0.08,"y":0.1},{"c":13,"x":0.12,"y":0.14},{"c":13,"x":0.2,"y":0.2},{"c":13,"x":0.26,"y":0.28},{"c":13,"x":0.32,"y":0.36},{"c":13,"x":0.4,"y":0.45},{"c":13,"x":0.48,"y":0.55},{"c":13,"x":0.56,"y":0.62},{"c":13,"x":0.65,"y":0.7},{"c":13,"x":0.75,"y":0.8},{"c":13,"x":0.88,"y":0.9},{"c":13,"x":1,"y":1},
{"c":14,"x":0,"y":0},{"c":14,"x":0.02,"y":0.3},{"c":14,"x":0.05,"y":0.45},{"c":14,"x":0.08,"y":0.55},{"c":14,"x":0.12,"y":0.62},{"c":14,"x":0.18,"y":0.7},{"c":14,"x":0.25,"y":0.76},{"c":14,"x":0.35,"y":0.8},{"c":14,"x":0.48,"y":0.84},{"c":14,"x":0.6,"y":0.86},{"c":14,"x":0.75,"y":0.88},{"c":14,"x":0.9,"y":0.9},{"c":14,"x":1,"y":0.93},{"c":14,"x":1,"y":1},
{"c":15,"x":0,"y":0},{"c":15,"x":0.01,"y":0.2},{"c":15,"x":0.03,"y":0.35},{"c":15,"x":0.05,"y":0.5},{"c":15,"x":0.08,"y":0.62},{"c":15,"x":0.12,"y":0.72},{"c":15,"x":0.17,"y":0.8},{"c":15,"x":0.24,"y":0.86},{"c":15,"x":0.34,"y":0.9},{"c":15,"x":0.48,"y":0.94},{"c":15,"x":0.66,"y":0.97},{"c":15,"x":1,"y":1},
{"c":16,"x":0,"y":0},{"c":16,"x":0.005,"y":0.6},{"c":16,"x":0.01,"y":0.75},{"c":16,"x":0.03,"y":0.83},{"c":16,"x":0.06,"y":0.88},{"c":16,"x":0.1,"y":0.91},{"c":16,"x":0.2,"y":0.94},{"c":16,"x":0.4,"y":0.97},{"c":16,"x":0.7,"y":0.99},{"c":16,"x":1,"y":1},
{"c":17,"x":0,"y":0},{"c":17,"x":0.02,"y":0.15},{"c":17,"x":0.05,"y":0.28},{"c":17,"x":0.08,"y":0.38},{"c":17,"x":0.12,"y":0.48},{"c":17,"x":0.17,"y":0.56},{"c":17,"x":0.23,"y":0.64},{"c":17,"x":0.3,"y":0.7},{"c":17,"x":0.4,"y":0.76},{"c":17,"x":0.52,"y":0.82},{"c":17,"x":0.66,"y":0.88},{"c":17,"x":0.8,"y":0.93},{"c":17,"x":1,"y":1},
{"c":18,"x":0,"y":0},{"c":18,"x":0.03,"y":0.05},{"c":18,"x":0.07,"y":0.1},{"c":18,"x":0.1,"y":0.15},{"c":18,"x":0.14,"y":0.22},{"c":18,"x":0.18,"y":0.3},{"c":18,"x":0.22,"y":0.38},{"c":18,"x":0.27,"y":0.46},{"c":18,"x":0.33,"y":0.54},{"c":18,"x":0.4,"y":0.6},{"c":18,"x":0.48,"y":0.66},{"c":18,"x":0.58,"y":0.72},{"c":18,"x":0.7,"y":0.78},{"c":18,"x":0.85,"y":0.88},{"c":18,"x":1,"y":1},
{"c":19,"x":0,"y":0},{"c":19,"x":0.05,"y":0.08},{"c":19,"x":0.15,"y":0.2},{"c":19,"x":0.25,"y":0.35},{"c":19,"x":0.38,"y":0.46},{"c":19,"x":0.55,"y":0.55},{"c":19,"x":0.7,"y":0.7},{"c":19,"x":0.85,"y":0.84},{"c":19,"x":1,"y":1},
{"c":20,"x":0,"y":0},{"c":20,"x":0.01,"y":0.35},{"c":20,"x":0.03,"y":0.5},{"c":20,"x":0.06,"y":0.6},{"c":20,"x":0.1,"y":0.68},{"c":20,"x":0.16,"y":0.75},{"c":20,"x":0.24,"y":0.81},{"c":20,"x":0.35,"y":0.86},{"c":20,"x":0.5,"y":0.9},{"c":20,"x":0.7,"y":0.94},{"c":20,"x":0.9,"y":0.97},{"c":20,"x":1,"y":1},
{"c":21,"x":0,"y":0},{"c":21,"x":0.02,"y":0.05},{"c":21,"x":0.04,"y":0.12},{"c":21,"x":0.07,"y":0.22},{"c":21,"x":0.1,"y":0.32},{"c":21,"x":0.13,"y":0.42},{"c":21,"x":0.17,"y":0.52},{"c":21,"x":0.22,"y":0.6},{"c":21,"x":0.3,"y":0.67},{"c":21,"x":0.4,"y":0.73},{"c":21,"x":0.55,"y":0.8},{"c":21,"x":0.72,"y":0.88},{"c":21,"x":0.88,"y":0.95},{"c":21,"x":1,"y":1},
{"c":22,"x":0,"y":0},{"c":22,"x":0.005,"y":0.3},{"c":22,"x":0.015,"y":0.5},{"c":22,"x":0.03,"y":0.65},{"c":22,"x":0.05,"y":0.75},{"c":22,"x":0.08,"y":0.82},{"c":22,"x":0.13,"y":0.87},{"c":22,"x":0.2,"y":0.9},{"c":22,"x":0.3,"y":0.93},{"c":22,"x":0.5,"y":0.96},{"c":22,"x":0.8,"y":0.99},{"c":22,"x":1,"y":1},
{"c":23,"x":0,"y":0},{"c":23,"x":0.03,"y":0.2},{"c":23,"x":0.07,"y":0.3},{"c":23,"x":0.12,"y":0.38},{"c":23,"x":0.18,"y":0.45},{"c":23,"x":0.25,"y":0.52},{"c":23,"x":0.35,"y":0.6},{"c":23,"x":0.45,"y":0.67},{"c":23,"x":0.56,"y":0.75},{"c":23,"x":0.68,"y":0.82},{"c":23,"x":0.8,"y":0.88},{"c":23,"x":0.92,"y":0.94},{"c":23,"x":1,"y":1},
{"c":24,"x":0,"y":0},{"c":24,"x":0.01,"y":0.08},{"c":24,"x":0.02,"y":0.2},{"c":24,"x":0.04,"y":0.35},{"c":24,"x":0.07,"y":0.5},{"c":24,"x":0.11,"y":0.62},{"c":24,"x":0.16,"y":0.71},{"c":24,"x":0.23,"y":0.79},{"c":24,"x":0.32,"y":0.85},{"c":24,"x":0.44,"y":0.9},{"c":24,"x":0.6,"y":0.94},{"c":24,"x":0.8,"y":0.97},{"c":24,"x":1,"y":1},
{"c":25,"x":0,"y":0},{"c":25,"x":0.07,"y":0.05},{"c":25,"x":0.07,"y":0.25},{"c":25,"x":0.12,"y":0.35},{"c":25,"x":0.2,"y":0.45},{"c":25,"x":0.3,"y":0.55},{"c":25,"x":0.4,"y":0.63},{"c":25,"x":0.5,"y":0.7},{"c":25,"x":0.62,"y":0.78},{"c":25,"x":0.75,"y":0.85},{"c":25,"x":0.9,"y":0.92},{"c":25,"x":1,"y":1},
{"c":26,"x":0,"y":0},{"c":26,"x":0.01,"y":0.5},{"c":26,"x":0.02,"y":0.65},{"c":26,"x":0.05,"y":0.76},{"c":26,"x":0.1,"y":0.84},{"c":26,"x":0.18,"y":0.89},{"c":26,"x":0.3,"y":0.93},{"c":26,"x":0.5,"y":0.96},{"c":26,"x":0.75,"y":0.98},{"c":26,"x":1,"y":1},
{"c":27,"x":0,"y":0},{"c":27,"x":0.005,"y":0.15},{"c":27,"x":0.015,"y":0.4},{"c":27,"x":0.03,"y":0.55},{"c":27,"x":0.06,"y":0.65},{"c":27,"x":0.1,"y":0.72},{"c":27,"x":0.15,"y":0.79},{"c":27,"x":0.22,"y":0.86},{"c":27,"x":0.32,"y":0.9},{"c":27,"x":0.5,"y":0.94},{"c":27,"x":0.7,"y":0.97},{"c":27,"x":1,"y":1},
{"c":28,"x":0,"y":0},{"c":28,"x":0.02,"y":0.55},{"c":28,"x":0.05,"y":0.7},{"c":28,"x":0.1,"y":0.78},{"c":28,"x":0.2,"y":0.82},{"c":28,"x":0.35,"y":0.87},{"c":28,"x":0.55,"y":0.92},{"c":28,"x":0.75,"y":0.95},{"c":28,"x":1,"y":1},
{"c":29,"x":0,"y":0},{"c":29,"x":0.01,"y":0.25},{"c":29,"x":0.03,"y":0.45},{"c":29,"x":0.06,"y":0.6},{"c":29,"x":0.1,"y":0.7},{"c":29,"x":0.17,"y":0.8},{"c":29,"x":0.28,"y":0.87},{"c":29,"x":0.45,"y":0.93},{"c":29,"x":0.7,"y":0.97},{"c":29,"x":1,"y":1},
{"c":30,"x":0,"y":0},{"c":30,"x":0.02,"y":0.1},{"c":30,"x":0.05,"y":0.25},{"c":30,"x":0.09,"y":0.4},{"c":30,"x":0.15,"y":0.53},{"c":30,"x":0.23,"y":0.64},{"c":30,"x":0.34,"y":0.74},{"c":30,"x":0.5,"y":0.84},{"c":30,"x":0.72,"y":0.93},{"c":30,"x":1,"y":1},
{"c":31,"x":0,"y":0},{"c":31,"x":0.005,"y":0.4},{"c":31,"x":0.02,"y":0.58},{"c":31,"x":0.05,"y":0.7},{"c":31,"x":0.1,"y":0.8},{"c":31,"x":0.18,"y":0.87},{"c":31,"x":0.3,"y":0.92},{"c":31,"x":0.5,"y":0.96},{"c":31,"x":1,"y":1},
{"c":32,"x":0,"y":0},{"c":32,"x":0.03,"y":0.15},{"c":32,"x":0.08,"y":0.3},{"c":32,"x":0.14,"y":0.44},{"c":32,"x":0.22,"y":0.56},{"c":32,"x":0.32,"y":0.66},{"c":32,"x":0.45,"y":0.76},{"c":32,"x":0.62,"y":0.85},{"c":32,"x":0.82,"y":0.93},{"c":32,"x":1,"y":1},
{"c":33,"x":0,"y":0},{"c":33,"x":0.01,"y":0.12},{"c":33,"x":0.03,"y":0.3},{"c":33,"x":0.06,"y":0.48},{"c":33,"x":0.11,"y":0.62},{"c":33,"x":0.18,"y":0.72},{"c":33,"x":0.28,"y":0.8},{"c":33,"x":0.42,"y":0.87},{"c":33,"x":0.62,"y":0.93},{"c":33,"x":1,"y":1},
{"c":34,"x":0,"y":0},{"c":34,"x":0.02,"y":0.4},{"c":34,"x":0.04,"y":0.55},{"c":34,"x":0.08,"y":0.66},{"c":34,"x":0.14,"y":0.75},{"c":34,"x":0.24,"y":0.83},{"c":34,"x":0.38,"y":0.89},{"c":34,"x":0.58,"y":0.94},{"c":34,"x":0.8,"y":0.97},{"c":34,"x":1,"y":1},
{"c":35,"x":0,"y":0},{"c":35,"x":0.05,"y":0.12},{"c":35,"x":0.1,"y":0.22},{"c":35,"x":0.17,"y":0.34},{"c":35,"x":0.25,"y":0.46},{"c":35,"x":0.35,"y":0.57},{"c":35,"x":0.48,"y":0.68},{"c":35,"x":0.64,"y":0.8},{"c":35,"x":0.82,"y":0.9},{"c":35,"x":1,"y":1},
{"c":36,"x":0,"y":0},{"c":36,"x":0.005,"y":0.7},{"c":36,"x":0.02,"y":0.8},{"c":36,"x":0.05,"y":0.86},{"c":36,"x":0.12,"y":0.9},{"c":36,"x":0.25,"y":0.94},{"c":36,"x":0.5,"y":0.97},{"c":36,"x":1,"y":1}
],
"D":[
{"s":"Heated","x":0.002,"y":0.03,"ex":0.003,"ey":0.008},{"s":"Heated","x":0.015,"y":0.063,"ex":0.005,"ey":0.01},{"s":"Heated","x":0.054,"y":0.116,"ex":0.007,"ey":0.012},{"s":"Heated","x":0.075,"y":0.159,"ex":0.009,"ey":0.013},{"s":"Heated","x":0.101,"y":0.203,"ex":0.011,"ey":0.015},{"s":"Heated","x":0.132,"y":0.256,"ex":0.014,"ey":0.017},{"s":"Heated","x":0.162,"y":0.309,"ex":0.016,"ey":0.019},{"s":"Heated","x":0.205,"y":0.365,"ex":0.018,"ey":0.022},{"s":"Heated","x":0.251,"y":0.417,"ex":0.02,"ey":0.024},{"s":"Heated","x":0.299,"y":0.473,"ex":0.022,"ey":0.026},{"s":"Heated","x":0.346,"y":0.515,"ex":0.023,"ey":0.027},{"s":"Heated","x":0.405,"y":0.573,"ex":0.024,"ey":0.027},{"s":"Heated","x":0.466,"y":0.627,"ex":0.025,"ey":0.027},{"s":"Heated","x":0.532,"y":0.679,"ex":0.025,"ey":0.026},{"s":"Heated","x":0.584,"y":0.726,"ex":0.024,"ey":0.024},{"s":"Heated","x":0.632,"y":0.765,"ex":0.023,"ey":0.022},{"s":"Heated","x":0.683,"y":0.809,"ex":0.022,"ey":0.02},{"s":"Heated","x":0.731,"y":0.842,"ex":0.021,"ey":0.017},{"s":"Heated","x":0.772,"y":0.878,"ex":0.02,"ey":0.014},{"s":"Heated","x":0.807,"y":0.902,"ex":0.019,"ey":0.011},{"s":"Heated","x":0.844,"y":0.928,"ex":0.018,"ey":0.008},{"s":"Heated","x":0.876,"y":0.95,"ex":0.017,"ey":0.006},{"s":"Heated","x":0.908,"y":0.965,"ex":0.015,"ey":0.004},{"s":"Heated","x":0.935,"y":0.977,"ex":0.013,"ey":0.003},{"s":"Heated","x":0.961,"y":0.987,"ex":0.011,"ey":0.002},{"s":"Heated","x":0.985,"y":0.996,"ex":0.008,"ey":0.001},
{"s":"Cooled","x":0.005,"y":0.063,"ex":0.002,"ey":0.025},{"s":"Cooled","x":0.013,"y":0.129,"ex":0.003,"ey":0.027},{"s":"Cooled","x":0.024,"y":0.195,"ex":0.004,"ey":0.028},{"s":"Cooled","x":0.035,"y":0.245,"ex":0.005,"ey":0.028},{"s":"Cooled","x":0.048,"y":0.294,"ex":0.006,"ey":0.028},{"s":"Cooled","x":0.061,"y":0.343,"ex":0.007,"ey":0.027},{"s":"Cooled","x":0.076,"y":0.393,"ex":0.008,"ey":0.026},{"s":"Cooled","x":0.095,"y":0.442,"ex":0.009,"ey":0.025},{"s":"Cooled","x":0.116,"y":0.489,"ex":0.011,"ey":0.024},{"s":"Cooled","x":0.141,"y":0.544,"ex":0.012,"ey":0.023},{"s":"Cooled","x":0.165,"y":0.595,"ex":0.013,"ey":0.022},{"s":"Cooled","x":0.205,"y":0.643,"ex":0.015,"ey":0.02},{"s":"Cooled","x":0.241,"y":0.689,"ex":0.016,"ey":0.019},{"s":"Cooled","x":0.287,"y":0.733,"ex":0.017,"ey":0.017},{"s":"Cooled","x":0.337,"y":0.771,"ex":0.018,"ey":0.015},{"s":"Cooled","x":0.383,"y":0.811,"ex":0.019,"ey":0.013},{"s":"Cooled","x":0.437,"y":0.842,"ex":0.019,"ey":0.011},{"s":"Cooled","x":0.488,"y":0.873,"ex":0.02,"ey":0.009},{"s":"Cooled","x":0.547,"y":0.902,"ex":0.02,"ey":0.007},{"s":"Cooled","x":0.614,"y":0.924,"ex":0.02,"ey":0.006},{"s":"Cooled","x":0.679,"y":0.943,"ex":0.02,"ey":0.005},{"s":"Cooled","x":0.739,"y":0.957,"ex":0.02,"ey":0.004},{"s":"Cooled","x":0.794,"y":0.968,"ex":0.019,"ey":0.003},{"s":"Cooled","x":0.844,"y":0.979,"ex":0.018,"ey":0.002},{"s":"Cooled","x":0.879,"y":0.985,"ex":0.016,"ey":0.002},{"s":"Cooled","x":0.921,"y":0.99,"ex":0.014,"ey":0.001},{"s":"Cooled","x":0.955,"y":0.993,"ex":0.011,"ey":0.001},{"s":"Cooled","x":0.985,"y":0.997,"ex":0.007,"ey":0.001},
{"s":"Difference","x":0.004,"y":0.04,"ex":0.002,"ey":0.03},{"s":"Difference","x":0.015,"y":0.118,"ex":0.003,"ey":0.03},{"s":"Difference","x":0.022,"y":0.173,"ex":0.004,"ey":0.03},{"s":"Difference","x":0.031,"y":0.239,"ex":0.005,"ey":0.03},{"s":"Difference","x":0.045,"y":0.294,"ex":0.006,"ey":0.03},{"s":"Difference","x":0.062,"y":0.34,"ex":0.008,"ey":0.029},{"s":"Difference","x":0.081,"y":0.382,"ex":0.01,"ey":0.028},{"s":"Difference","x":0.099,"y":0.431,"ex":0.012,"ey":0.027},{"s":"Difference","x":0.125,"y":0.477,"ex":0.014,"ey":0.026},{"s":"Difference","x":0.152,"y":0.524,"ex":0.016,"ey":0.025},{"s":"Difference","x":0.184,"y":0.57,"ex":0.018,"ey":0.024},{"s":"Difference","x":0.216,"y":0.612,"ex":0.019,"ey":0.023},{"s":"Difference","x":0.259,"y":0.663,"ex":0.02,"ey":0.022},{"s":"Difference","x":0.31,"y":0.708,"ex":0.021,"ey":0.02},{"s":"Difference","x":0.36,"y":0.751,"ex":0.022,"ey":0.018},{"s":"Difference","x":0.421,"y":0.793,"ex":0.023,"ey":0.016},{"s":"Difference","x":0.483,"y":0.834,"ex":0.024,"ey":0.013},{"s":"Difference","x":0.565,"y":0.866,"ex":0.025,"ey":0.011},{"s":"Difference","x":0.641,"y":0.9,"ex":0.025,"ey":0.009},{"s":"Difference","x":0.73,"y":0.928,"ex":0.024,"ey":0.007},{"s":"Difference","x":0.807,"y":0.946,"ex":0.022,"ey":0.005},{"s":"Difference","x":0.876,"y":0.963,"ex":0.02,"ey":0.004},{"s":"Difference","x":0.921,"y":0.979,"ex":0.017,"ey":0.003},{"s":"Difference","x":0.958,"y":0.99,"ex":0.013,"ey":0.002},{"s":"Difference","x":0.985,"y":0.997,"ex":0.008,"ey":0.001}
]},
"title":{"text":"False Positive Rate","orient":"bottom","font":"DejaVu Sans","fontSize":29,"fontWeight":"normal","color":"#000","offset":12,"anchor":"middle","dx":42},
"vconcat":[{
"title":{"text":"True Positive Rate","orient":"left","font":"DejaVu Sans","fontSize":33,"fontWeight":"normal","color":"#000","offset":24,"anchor":"middle","dx":0},
"columns":2,
"spacing":{"row":41,"column":40},
"bounds":"flush",
"resolve":{"scale":{"color":"independent"},"legend":{"color":"independent"}},
"concat":[
{"width":365,"height":302,"data":{"name":"A"},
"layer":[
{"transform":[{"filter":"datum.c % 3 != 0"}],"mark":{"type":"line","color":"#3a9ed4","strokeWidth":1.1},
"encoding":{"x":{"field":"x","type":"quantitative","scale":{"domain":[0,1]},"axis":{"orient":"bottom","labels":false}},
"y":{"field":"y","type":"quantitative","scale":{"domain":[0,1]},"axis":{"orient":"left","format":"~g"}},
"detail":{"field":"c","type":"nominal"}}},
{"transform":[{"filter":"datum.c % 3 == 0"}],"mark":{"type":"line","color":"#3a9ed4","strokeWidth":1.1,"interpolate":"step-after"},
"encoding":{"x":{"field":"x","type":"quantitative","axis":null},"y":{"field":"y","type":"quantitative","axis":null},"detail":{"field":"c","type":"nominal"}}},
{"data":{"values":[{}]},"mark":{"type":"text","text":"A","align":"left","baseline":"top","font":"Liberation Sans","fontWeight":"bold","fontSize":37,"dx":5,"dy":6},
"encoding":{"x":{"datum":0,"type":"quantitative","axis":{"orient":"top","labels":false}},"y":{"datum":1,"type":"quantitative","axis":{"orient":"right","labels":false}}}}
],
"resolve":{"axis":{"x":"independent","y":"independent"}}},
{"width":365,"height":302,"data":{"name":"B"},
"layer":[
{"transform":[{"filter":"datum.c % 3 != 0"}],"mark":{"type":"line","color":"#c940be","strokeWidth":1.1},
"encoding":{"x":{"field":"x","type":"quantitative","scale":{"domain":[0,1]},"axis":{"orient":"bottom","labels":false}},
"y":{"field":"y","type":"quantitative","scale":{"domain":[0,1]},"axis":{"orient":"left","labels":false}},
"detail":{"field":"c","type":"nominal"}}},
{"transform":[{"filter":"datum.c % 3 == 0"}],"mark":{"type":"line","color":"#c940be","strokeWidth":1.1,"interpolate":"step-after"},
"encoding":{"x":{"field":"x","type":"quantitative","axis":null},"y":{"field":"y","type":"quantitative","axis":null},"detail":{"field":"c","type":"nominal"}}},
{"data":{"values":[{}]},"mark":{"type":"text","text":"B","align":"left","baseline":"top","font":"Liberation Sans","fontWeight":"bold","fontSize":37,"dx":5,"dy":6},
"encoding":{"x":{"datum":0,"type":"quantitative","axis":{"orient":"top","labels":false}},"y":{"datum":1,"type":"quantitative","axis":{"orient":"right","labels":false}}}}
],
"resolve":{"axis":{"x":"independent","y":"independent"}}},
{"width":365,"height":302,"data":{"name":"C"},
"layer":[
{"transform":[{"filter":"datum.c % 3 != 0"}],"mark":{"type":"line","color":"#c54f3a","strokeWidth":1.1},
"encoding":{"x":{"field":"x","type":"quantitative","scale":{"domain":[0,1]},"axis":{"orient":"bottom","format":"~g"}},
"y":{"field":"y","type":"quantitative","scale":{"domain":[0,1]},"axis":{"orient":"left","format":"~g"}},
"detail":{"field":"c","type":"nominal"}}},
{"transform":[{"filter":"datum.c % 3 == 0"}],"mark":{"type":"line","color":"#c54f3a","strokeWidth":1.1,"interpolate":"step-after"},
"encoding":{"x":{"field":"x","type":"quantitative","axis":null},"y":{"field":"y","type":"quantitative","axis":null},"detail":{"field":"c","type":"nominal"}}},
{"data":{"values":[{}]},"mark":{"type":"text","text":"C","align":"left","baseline":"top","font":"Liberation Sans","fontWeight":"bold","fontSize":37,"dx":5,"dy":6},
"encoding":{"x":{"datum":0,"type":"quantitative","axis":{"orient":"top","labels":false}},"y":{"datum":1,"type":"quantitative","axis":{"orient":"right","labels":false}}}}
],
"resolve":{"axis":{"x":"independent","y":"independent"}}},
{"width":365,"height":302,"data":{"name":"D"},
"layer":[
{"mark":{"type":"point","shape":"M-1,-0.28L-0.28,-0.28L-0.28,-1L0.28,-1L0.28,-0.28L1,-0.28L1,0.28L0.28,0.28L0.28,1L-0.28,1L-0.28,0.28L-1,0.28Z","filled":true,"size":1,"opacity":1},
"encoding":{"x":{"field":"x","type":"quantitative","scale":{"domain":[0,1]},"axis":null},
"y":{"field":"y","type":"quantitative","scale":{"domain":[0,1]},"axis":null},
"color":{"field":"s","type":"nominal","scale":{"domain":["Heated","Cooled","Difference"],"range":["#3aa3d8","#cc3fc1","#c9503b"]},
"legend":{"title":null,"orient":"none","legendX":171,"legendY":167,"symbolType":"M-1,-0.28L-0.28,-0.28L-0.28,-1L0.28,-1L0.28,-0.28L1,-0.28L1,0.28L0.28,0.28L0.28,1L-0.28,1L-0.28,0.28L-1,0.28Z","symbolSize":200,"symbolStrokeWidth":0,"labelFont":"DejaVu Sans","labelFontSize":28,"labelColor":"#000","labelOffset":3,"rowPadding":3,"padding":0}}}},
{"mark":{"type":"errorbar","thickness":3.5},
"encoding":{"x":{"field":"x","type":"quantitative","title":null,"axis":{"orient":"bottom","format":"~g","title":null}},"xError":{"field":"ex"},
"y":{"field":"y","type":"quantitative","title":null,"axis":{"orient":"left","labels":false,"title":null}},
"color":{"field":"s","type":"nominal","legend":null}}},
{"mark":{"type":"errorbar","thickness":3.5},
"encoding":{"x":{"field":"x","type":"quantitative","axis":null},
"y":{"field":"y","type":"quantitative","axis":null},"yError":{"field":"ey"},
"color":{"field":"s","type":"nominal","legend":null}}},
{"data":{"values":[{}]},"mark":{"type":"text","text":"D","align":"left","baseline":"top","font":"Liberation Sans","fontWeight":"bold","fontSize":37,"dx":5,"dy":6},
"encoding":{"x":{"datum":0,"type":"quantitative","axis":{"orient":"top","labels":false}},"y":{"datum":1,"type":"quantitative","axis":{"orient":"right","labels":false}}}}
],
"resolve":{"axis":{"x":"independent","y":"independent"}}}
]}]
}
